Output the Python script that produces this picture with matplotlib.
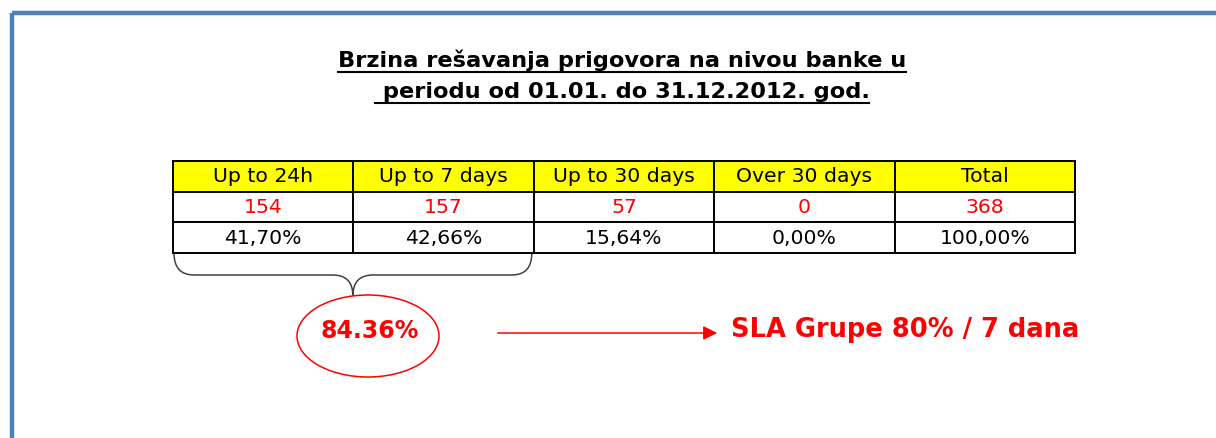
import matplotlib.pyplot as plt
from matplotlib.patches import Rectangle, Ellipse, PathPatch
from matplotlib.path import Path

plt.rcParams['font.family'] = ['DejaVu Sans']

# data
title_lines = ['Brzina rešavanja prigovora na nivou banke u',
               ' periodu od 01.01. do 31.12.2012. god.']
categories = ['Up to 24h', 'Up to 7 days', 'Up to 30 days', 'Over 30 days', 'Total']
counts = [154, 157, 57, 0, 368]
shares = ['41,70%', '42,66%', '15,64%', '0,00%', '100,00%']
within_7_days = '84.36%'
sla_text = 'SLA Grupe 80% / 7 dana'

W, H = 1216, 438
fig = plt.figure(figsize=(W / 100, H / 100), dpi=100)
ax = fig.add_axes([0, 0, 1, 1])
ax.set_xlim(0, W)
ax.set_ylim(H, 0)
ax.axis('off')

# slide frame
ax.add_patch(Rectangle((11.5, 12.5), 1300, 500, fill=False,
                       ec='#4F81BD', lw=3.2, zorder=1))

# title, underlined line by line
fig.canvas.draw()
renderer = fig.canvas.get_renderer()
inv = ax.transData.inverted()
for i, line in enumerate(title_lines):
    y = 67 + 31 * i
    t = ax.text(622, y, line, ha='center', va='baseline',
                fontsize=16.2, fontweight='bold')
    bb = t.get_window_extent(renderer)
    (xa, _), (xb, _) = inv.transform([(bb.x0, bb.y0), (bb.x1, bb.y0)])
    ax.plot([xa, xb], [y + 5, y + 5], color='black', lw=1.5)

# table
x0, x1 = 173, 1075
y_top, row_h = 161, 30.7
n = len(categories)
col_w = (x1 - x0) / n
rows = [
    (categories, '#FFFF00', 'black'),
    ([str(c) for c in counts], 'white', '#FF0000'),
    (shares, 'white', 'black'),
]
for r, (vals, bg, fg) in enumerate(rows):
    y = y_top + r * row_h
    for c, v in enumerate(vals):
        x = x0 + c * col_w
        ax.add_patch(Rectangle((x, y), col_w, row_h, fc=bg, ec='black',
                               lw=1.4, zorder=2))
        ax.text(x + col_w / 2, y + row_h / 2 + 0.5, v, ha='center',
                va='center', fontsize=14.7, color=fg, zorder=3)

# brace under first two columns
bl, br = x0 + 1, x0 + 2 * col_w - 2
bm = (bl + br) / 2
yb, yc, yt = y_top + 3 * row_h, 275, 296
verts = [(bl, yb), (bl, yc), (bl + 20, yc),
         (bm - 20, yc),
         (bm, yc), (bm, yt),
         (bm, yc), (bm + 20, yc),
         (br - 20, yc),
         (br, yc), (br, yb)]
codes = [Path.MOVETO, Path.CURVE3, Path.CURVE3,
         Path.LINETO,
         Path.CURVE3, Path.CURVE3,
         Path.CURVE3, Path.CURVE3,
         Path.LINETO,
         Path.CURVE3, Path.CURVE3]
ax.add_patch(PathPatch(Path(verts, codes), fill=False, ec='#404040', lw=1.1))

# ellipse with the combined share
ax.add_patch(Ellipse((368, 336), 142, 82, fill=False, ec='#FF0000', lw=1.1))
ax.text(370, 331, within_7_days, ha='center', va='center', fontsize=17,
        fontweight='bold', color='#FF0000')

# arrow to SLA text
ax.annotate('', xy=(720, 333), xytext=(495, 333),
            arrowprops=dict(arrowstyle='-|>', color='#FF0000', lw=1.1,
                            mutation_scale=21))
ax.text(731, 330, sla_text, ha='left', va='center', fontsize=18.5,
        fontweight='bold', color='#FF0000')

fig.savefig('out.png', dpi=100)
